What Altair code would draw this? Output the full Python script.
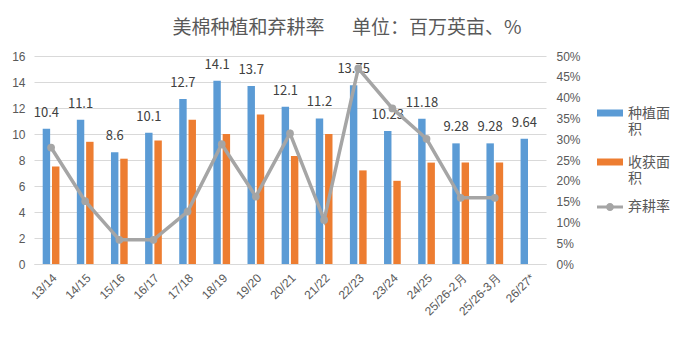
import altair as alt
import pandas as pd

categories = ["13/14", "14/15", "15/16", "16/17", "17/18", "18/19", "19/20", "20/21",
              "21/22", "22/23", "23/24", "24/25", "25/26-2月", "25/26-3月", "26/27*"]
planted = [10.4, 11.1, 8.6, 10.1, 12.7, 14.1, 13.7, 12.1, 11.2, 13.75, 10.23, 11.18, 9.28, 9.28, 9.64]
planted_labels = ["10.4", "11.1", "8.6", "10.1", "12.7", "14.1", "13.7", "12.1", "11.2",
                  "13.75", "10.23", "11.18", "9.28", "9.28", "9.64"]
harvested = [7.5, 9.4, 8.1, 9.5, 11.1, 10.0, 11.5, 8.3, 10.0, 7.2, 6.4, 7.8, 7.8, 7.8, None]
abandon = [0.28, 0.151, 0.058, 0.058, 0.126, 0.288, 0.162, 0.314, 0.106, 0.47, 0.374, 0.301,
           0.159, 0.159, None]
left_ticks = [0, 2, 4, 6, 8, 10, 12, 14, 16]
right_ticks = [0, 0.05, 0.10, 0.15, 0.20, 0.25, 0.30, 0.35, 0.40, 0.45, 0.50]

series_names = ["种植面积", "收获面积"]
line_name = "弃耕率"

rows = []
for c, p, h in zip(categories, planted, harvested):
    rows.append({"cat": c, "series": series_names[0], "value": p})
    if h is not None:
        rows.append({"cat": c, "series": series_names[1], "value": h})
bars_df = pd.DataFrame(rows)
text_df = pd.DataFrame({"cat": categories, "series": series_names[0], "value": planted,
                        "label": planted_labels})
line_df = pd.DataFrame([{"cat": c, "rate": r, "name": line_name}
                        for c, r in zip(categories, abandon) if r is not None])

FONT_NUM = "Liberation Sans Narrow, Liberation Sans, sans-serif"
FONT_CJK = "Noto Sans CJK SC"
GREY_TXT = "#595959"

x_axis = alt.Axis(title=None, labelAngle=-45, labelFontSize=12, labelFont=FONT_NUM,
                  labelColor=GREY_TXT, ticks=False, domainColor="#D9D9D9",
                  labelPadding=8, grid=False)
x_scale = alt.Scale(paddingInner=0.51, paddingOuter=0.255)
left_axis = alt.Axis(title=None, values=left_ticks, grid=True, gridColor="#D9D9D9",
                     domain=False, ticks=False, labelFontSize=12, labelFont=FONT_NUM,
                     labelColor=GREY_TXT, labelPadding=9, labelOverlap=False)
right_axis = alt.Axis(title=None, orient="right", values=right_ticks, format=".0%",
                      grid=False, domain=False, ticks=False, labelFontSize=12,
                      labelFont=FONT_NUM, labelColor=GREY_TXT, labelPadding=10,
                      labelOverlap=False)
left_scale = alt.Scale(domain=[0, 16], nice=False)
right_scale = alt.Scale(domain=[0, 0.5], nice=False)
xoff = alt.XOffset("series:N", sort=series_names, scale=alt.Scale(paddingInner=0.2))

bars = alt.Chart(bars_df).mark_bar().encode(
    x=alt.X("cat:N", sort=categories, scale=x_scale, axis=x_axis),
    xOffset=xoff,
    y=alt.Y("value:Q", scale=left_scale, axis=left_axis),
    color=alt.Color("series:N",
                    scale=alt.Scale(domain=series_names, range=["#5B9BD5", "#ED7D31"]),
                    legend=alt.Legend(title=None, orient="none", legendX=566, legendY=48,
                                      padding=0,
                                      symbolType="M-1.3,-0.45L1.3,-0.45L1.3,0.25L-1.3,0.25Z",
                                      symbolSize=400, labelOffset=8,
                                      labelExpr="[slice(datum.label,0,3), slice(datum.label,3)]",
                                      labelFont=FONT_CJK, labelFontSize=14,
                                      labelColor=GREY_TXT,
                                      labelBaseline="middle",
                                      rowPadding=16, symbolStrokeWidth=0)),
)

text = alt.Chart(text_df).mark_text(dy=-16, fontSize=13, font=FONT_CJK, color="#404040").encode(
    x=alt.X("cat:N", sort=categories, scale=x_scale, axis=x_axis),
    xOffset=xoff,
    y=alt.Y("value:Q", scale=left_scale, axis=left_axis),
    text="label:N",
)

left = alt.layer(bars, text)

line = alt.Chart(line_df).mark_line(color="#A5A5A5", strokeWidth=3.5).encode(
    x=alt.X("cat:N", sort=categories, scale=x_scale, axis=x_axis),
    y=alt.Y("rate:Q", scale=right_scale, axis=right_axis),
)

pts = alt.Chart(line_df).mark_point(filled=True, size=60, opacity=1).encode(
    x=alt.X("cat:N", sort=categories, scale=x_scale, axis=x_axis),
    y=alt.Y("rate:Q", scale=right_scale, axis=right_axis),
    color=alt.Color("name:N", scale=alt.Scale(domain=[line_name], range=["#A5A5A5"]),
                    legend=alt.Legend(title=None, orient="none", legendX=566, legendY=141,
                                      padding=0,
                                      symbolType="M-1.3,-0.15L1.3,-0.15L1.3,0.15L-1.3,0.15Z"
                                                 "M-0.4,0A0.4,0.4,0,1,1,0.4,0A0.4,0.4,0,1,1,-0.4,0Z",
                                      symbolSize=400, labelOffset=8, labelFont=FONT_CJK,
                                      labelFontSize=14, labelColor=GREY_TXT,
                                      symbolStrokeWidth=0)),
)

right = alt.layer(line, pts)

chart = alt.layer(left, right).resolve_scale(y="independent", color="independent").properties(
    width=512, height=208,
    autosize=alt.AutoSizeParams(type="none"),
    padding={"left": 34, "top": 56, "right": 145, "bottom": 93},
    background="white",
    title=alt.Title("美棉种植和弃耕率\u3000\u00a0\u00a0单位：百万英亩、%", fontSize=19,
                    font=FONT_CJK, color=GREY_TXT, fontWeight="normal", anchor="middle",
                    dx=57, offset=12),
).configure_view(stroke=None)

chart.save("out.html", embed_options={"renderer": "svg", "actions": False})
